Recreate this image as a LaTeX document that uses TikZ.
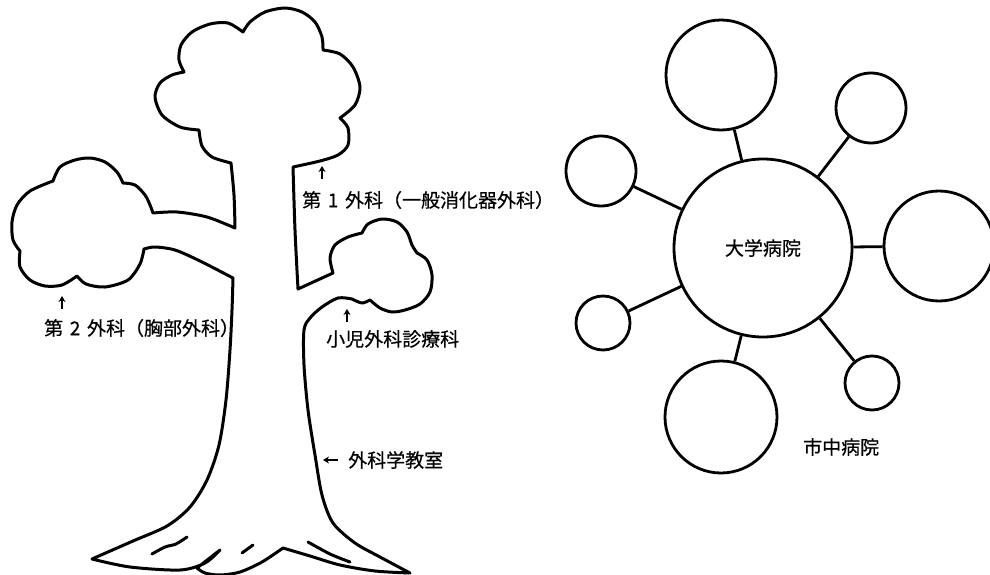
\documentclass[tikz,border=0pt]{standalone}
\usepackage{fontspec}
\newfontfamily\jp[FakeBold=0.5]{Noto Sans CJK JP}
\usetikzlibrary{arrows.meta}

\newcommand\gap{\hspace{0.35em}}

\tikzset{
  outline/.style={line width=3pt, line join=round, line cap=round},
  bark/.style={line width=3pt, line cap=round},
  hosp/.style={circle, draw, line width=2.8pt, inner sep=0pt, font=\jp\fontsize{19}{22}\selectfont},
  link/.style={line width=2.8pt},
  label/.style={font=\jp\fontsize{19}{22}\selectfont, inner sep=0pt, anchor=west},
  ptr/.style={line width=1.8pt, -{Stealth[length=6pt,width=7pt]}},
}

\begin{document}
\begin{tikzpicture}[x=1pt, y=-1pt]
\useasboundingbox[fill=white] (0,0) rectangle (990,575);

% ---- the tree: trunk, three branches with crowns, roots ----
\draw[outline]
    plot[smooth] coordinates {(92,559) (133,541) (167,526) (190,507) (207,480) (219,445) (226,400) (230,350) (232,310) (233,278)}
 -- plot[smooth] coordinates {(233,278) (200,261) (175,250) (155,247) (144,249)}
 -- plot[smooth] coordinates {(144,249) (140,264) (128,280) (105,287) (86,284) (77,276)}
 -- plot[smooth] coordinates {(77,276) (62,285) (45,286) (30,280) (20,267) (20,251)}
 -- plot[smooth] coordinates {(20,251) (13,240) (12,222) (17,205) (30,191) (53,181)}
 -- plot[smooth] coordinates {(53,181) (60,167) (75,160) (90,158) (105,162) (117,172) (123,183)}
 -- plot[smooth] coordinates {(123,183) (135,185) (145,195) (150,205) (153,213)}
 -- plot[smooth] coordinates {(153,213) (177,212) (207,217) (235,228)}
 -- plot[smooth] coordinates {(235,228) (234,195) (231,163)}
 -- plot[smooth] coordinates {(231,163) (212,157) (202,146) (199,130)}
 -- plot[smooth] coordinates {(199,130) (180,127) (162,115) (155,97) (160,83) (172,75) (184,72)}
 -- plot[smooth] coordinates {(184,72) (179,60) (181,45) (192,32) (210,24) (228,23) (243,32)}
 -- plot[smooth] coordinates {(243,32) (250,22) (265,12) (285,8) (302,12) (315,22) (322,37) (323,50)}
 -- plot[smooth] coordinates {(323,50) (340,54) (353,67) (360,87) (355,105) (340,118)}
 -- plot[smooth] coordinates {(340,118) (348,128) (348,145) (338,155) (320,161) (293,167)}
 -- plot[smooth] coordinates {(293,167) (295,230) (298,289)}
 -- (333,273)
 -- plot[smooth] coordinates {(333,273) (330,258) (335,245) (348,237) (362,233)}
 -- plot[smooth] coordinates {(362,233) (368,224) (382,219) (397,222) (407,232) (412,245) (417,253)}
 -- plot[smooth] coordinates {(417,253) (427,260) (432,275) (430,292) (420,304) (405,310) (392,312) (380,308) (370,300)}
 -- plot[smooth] coordinates {(370,300) (362,303) (352,299)}
 -- plot[smooth] coordinates {(352,299) (338,298) (322,307) (310,318) (304,330) (304,365) (308,410) (315,455) (322,495) (333,523) (355,543) (380,557) (410,573)}
 -- plot[smooth] coordinates {(410,573) (375,571) (340,565) (310,556) (283,548)}
 -- plot[smooth] coordinates {(283,548) (262,562) (240,572) (220,575) (205,573) (197,568)}
 -- (220,550)
 -- plot[smooth] coordinates {(220,550) (205,563) (180,570) (130,567) (92,559)}
 -- cycle;

% bark strokes on the roots
\draw[bark] plot[smooth] coordinates {(152,554) (165,547) (176,544) (187,537)};
\draw[bark] (242,553) -- (253,545);
\draw[bark] plot[smooth] coordinates {(308,542) (330,554) (350,562)};

% ---- labels of the tree ----
\coordinate (p1s) at (322,179);  \coordinate (p1e) at (322,166);
\coordinate (p2s) at (62,309);   \coordinate (p2e) at (62,296);
\coordinate (p3s) at (347,322);  \coordinate (p3e) at (347,309);
\coordinate (p4s) at (338,460);  \coordinate (p4e) at (323,460);
\draw[ptr] (p1s) -- (p1e);
\draw[ptr] (p2s) -- (p2e);
\draw[ptr] (p3s) -- (p3e);
\draw[ptr] (p4s) -- (p4e);

\node[label] (first)  at (302,200) {第\gap 1\gap 外科（一般消化器外科）};
\node[label] (second) at (44,328)  {第\gap 2\gap 外科（胸部外科）};
\node[label] (ped)    at (326,339) {小児外科診療科};
\node[label] (dept)   at (348,460) {外科学教室};

% ---- the hospital network ----
\node[hosp, minimum size=178pt] (uni) at (763,248) {大学病院};
\node[hosp, minimum size=110pt] (top)   at (721,75)  {};
\node[hosp, minimum size=70pt]  (ne)    at (871,108) {};
\node[hosp, minimum size=70pt]  (nw)    at (601,171) {};
\node[hosp, minimum size=110pt] (east)  at (939,246) {};
\node[hosp, minimum size=54pt]  (west)  at (603,323) {};
\node[hosp, minimum size=112pt] (south) at (721,417) {};
\node[hosp, minimum size=54pt]  (se)    at (872,383) {};

\foreach \c in {top,ne,nw,east,west,south,se}
  \draw[link] (uni) -- (\c);

\node[label] (city) at (803,447) {市中病院};
\end{tikzpicture}
\end{document}
